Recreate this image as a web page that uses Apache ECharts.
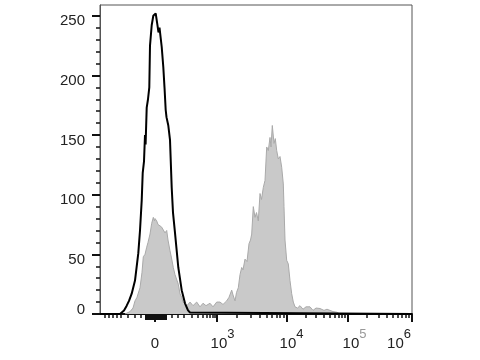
<!DOCTYPE html>
<html>
<head>
<meta charset="utf-8">
<script src="https://cdn.jsdelivr.net/npm/echarts@6/dist/echarts.min.js"></script>
<style>html,body{margin:0;padding:0;background:#fff}#c{width:480px;height:360px}</style>
</head>
<body>
<div id="c"></div>
<script>
// Display units along the (biexponential) x axis: 0 = left edge, 312 = right edge
const xMajorTicks = [55, 117, 187, 248, 312];
const xTickBase = ['0', '10', '10', '10', '10'];
const xTickExp = ['', '3', '4', '5', '6'];
const xMinorTicks = [5, 9, 13, 17, 21, 28, 35, 41, 72, 78, 83.4, 91.9, 97.9, 102.5, 106.4, 109.6, 112.3, 114.8,
  137, 150.4, 159.5, 166.5, 172, 176.5, 180.2, 183.8,
  205.4, 216, 223.7, 229.6, 234.5, 238.5, 242, 245.2,
  267, 278.5, 286.5, 292.7, 297.8, 302, 305.8, 309];
const xZeroCluster = [46, 48, 50, 52, 54, 56, 58, 60, 62, 64, 66];
const yTickValues = [0, 50, 100, 150, 200, 250];
const yMinorTicks = [10, 20, 30, 40, 60, 70, 80, 90, 110, 120, 130, 140, 160, 170, 180, 190, 210, 220, 230, 240];

// Black (control) histogram
const blackX = [0, 20, 21.7, 24, 26.7, 29, 31.7, 35, 38.3, 40, 41.7, 42.7, 44, 45, 45.6, 46.7, 48, 49.3, 50, 51.7, 53.3, 55.7, 57.3, 58.5, 59.5, 60.7, 61.7, 63.3, 64.5, 65.7, 66.5, 68.3, 70, 71.7, 73, 75, 78.3, 81.7, 85, 88, 90, 92, 312];
const blackY = [0, 0, 0.4, 3, 7, 11, 17, 28, 51, 70, 95, 118, 128, 150, 142, 173, 180, 190, 225, 242, 250, 252, 243, 236, 240, 241, 224, 207, 190, 171, 165, 158, 146, 106, 85, 68, 39, 20, 9, 3, 1.3, 0, 0];

// Gray (stained) histogram
const grayX = [25, 27, 30, 33, 35, 37, 40, 42, 43.3, 45, 46.7, 48, 50, 51.7, 53.3, 54.5, 55, 56.7, 58, 60, 61.5, 63.3, 65, 66.7, 68, 70, 71.5, 73.3, 75, 78.3, 80, 81.7, 83, 85, 87, 90, 93, 96.7, 100, 103, 106, 110, 113, 116.7, 120, 123, 126.7, 129, 131.7, 133, 135, 136.5, 138.3, 140, 141.7, 143, 145, 147, 149, 150.5, 151.7, 153.3, 155, 156.5, 158.3, 160, 161.5, 163.3, 165, 166.7, 168.3, 170, 171, 172.3, 174, 175.3, 176.7, 178.3, 180, 181.7, 183.3, 184, 185, 186.7, 188.3, 190, 191.7, 193.3, 195, 197.5, 200, 203, 206, 210, 213, 216, 220, 224, 227, 230, 233, 236.7, 240];
const grayY = [0, 0.5, 2, 5, 11, 14, 22, 35, 48, 50, 56, 60, 67, 76, 81, 78, 80, 78, 75, 76, 73, 73, 68, 70, 62, 53, 47, 39, 33, 25, 17, 14, 10, 8.7, 7, 10, 7, 10, 6, 9, 7, 9, 6, 10, 10, 8, 11, 14, 20, 16, 11, 18, 22, 33, 39, 37, 46, 44, 59, 62, 67, 90, 81, 85, 78, 101, 96, 106, 112, 140, 137, 148, 140, 158, 143, 147, 137, 130, 132, 123, 109, 90, 62, 45, 42, 28, 17, 10, 6, 5, 7, 4, 6, 6, 3, 5, 4.6, 3, 4, 3, 2, 1.5, 0];

const pair = (xs, ys) => xs.map((x, i) => [x, ys[i]]);
const FONT = 'Liberation Sans, Arial, sans-serif';

const xRich = {
  z: {fontSize: 15, fontFamily: FONT, color: '#222', lineHeight: 16, padding: [8, 0, 0, 0], verticalAlign: 'bottom'},
  b1: {fontSize: 15, fontFamily: FONT, color: '#222', lineHeight: 16, padding: [0, 0, 0, 11], verticalAlign: 'bottom'},
  b2: {fontSize: 15, fontFamily: FONT, color: '#222', lineHeight: 16, padding: [0, 0, 0, 9], verticalAlign: 'bottom'},
  b3: {fontSize: 15, fontFamily: FONT, color: '#222', lineHeight: 16, padding: [0, 0, 0, 13], verticalAlign: 'bottom'},
  b4: {fontSize: 15, fontFamily: FONT, color: '#222', lineHeight: 16, padding: [0, 0, 0, 0], verticalAlign: 'bottom'},
  s1: {fontSize: 13, fontFamily: FONT, color: '#222', lineHeight: 14, padding: [0, 0, 10, 0], verticalAlign: 'bottom'},
  s2: {fontSize: 13, fontFamily: FONT, color: '#222', lineHeight: 14, padding: [0, 0, 10, 0], verticalAlign: 'bottom'},
  s3: {fontSize: 13, fontFamily: FONT, color: '#999', lineHeight: 14, padding: [0, 0, 10, 0], verticalAlign: 'bottom'},
  s4: {fontSize: 13, fontFamily: FONT, color: '#222', lineHeight: 14, padding: [0, 26, 10, 0], verticalAlign: 'bottom'}
};
const yRich = {
  n: {fontSize: 15, fontFamily: FONT, color: '#222', lineHeight: 16, padding: [11, 0, 0, 0]},
  z: {fontSize: 15, fontFamily: FONT, color: '#222', lineHeight: 16, padding: [0, 0, 9, 0]}
};

const chart = echarts.init(document.getElementById('c'), null, {renderer: 'canvas'});
chart.setOption({
  animation: false,
  backgroundColor: '#fff',
  grid: {left: 100, right: 68, top: 5, bottom: 46, show: true, borderColor: '#555', borderWidth: 1},
  xAxis: [
    {
      type: 'value', min: 0, max: 312, position: 'bottom',
      axisLine: {show: true, onZero: false, lineStyle: {color: '#111', width: 2}},
      axisTick: {show: true, customValues: xMajorTicks, length: 8, lineStyle: {color: '#111', width: 2}},
      axisLabel: {
        customValues: xMajorTicks, margin: 21,
        formatter: function (v) {
          const i = xMajorTicks.indexOf(v);
          if (i <= 0) return '{z|' + xTickBase[0] + '}';
          return '{b' + i + '|' + xTickBase[i] + '}{s' + i + '|' + xTickExp[i] + '}';
        },
        rich: xRich
      },
      splitLine: {show: false}
    },
    {
      type: 'value', min: 0, max: 312, position: 'bottom',
      axisLine: {show: false, onZero: false},
      axisTick: {show: true, customValues: xMinorTicks, length: 4, lineStyle: {color: '#111', width: 1.5}},
      axisLabel: {show: false},
      splitLine: {show: false}
    },
    {
      type: 'value', min: 0, max: 312, position: 'bottom',
      axisLine: {show: false, onZero: false},
      axisTick: {show: true, customValues: xZeroCluster, length: 6, lineStyle: {color: '#111', width: 2}},
      axisLabel: {show: false},
      splitLine: {show: false}
    }
  ],
  yAxis: [
    {
      type: 'value', min: 0, max: 259, position: 'left',
      axisLine: {show: true, onZero: false, lineStyle: {color: '#555', width: 1}},
      axisTick: {show: true, customValues: yTickValues, length: 8, lineStyle: {color: '#111', width: 2}},
      axisLabel: {
        customValues: yTickValues, margin: 15,
        formatter: function (v) { return v === 0 ? '{z|0}' : '{n|' + v + '}'; },
        rich: yRich
      },
      splitLine: {show: false}
    },
    {
      type: 'value', min: 0, max: 259, position: 'left',
      axisLine: {show: false, onZero: false},
      axisTick: {show: true, customValues: yMinorTicks, length: 4, lineStyle: {color: '#111', width: 1.5}},
      axisLabel: {show: false},
      splitLine: {show: false}
    }
  ],
  series: [
    {
      type: 'line', xAxisIndex: 0, yAxisIndex: 0, data: pair(grayX, grayY),
      showSymbol: false, symbol: 'none',
      lineStyle: {color: '#a9a9a9', width: 1},
      areaStyle: {color: '#c9c9c9', opacity: 1},
      z: 2
    },
    {
      type: 'line', xAxisIndex: 0, yAxisIndex: 0, data: pair(blackX, blackY),
      showSymbol: false, symbol: 'none',
      lineStyle: {color: '#000', width: 2},
      z: 3
    }
  ]
});
</script>
</body>
</html>
